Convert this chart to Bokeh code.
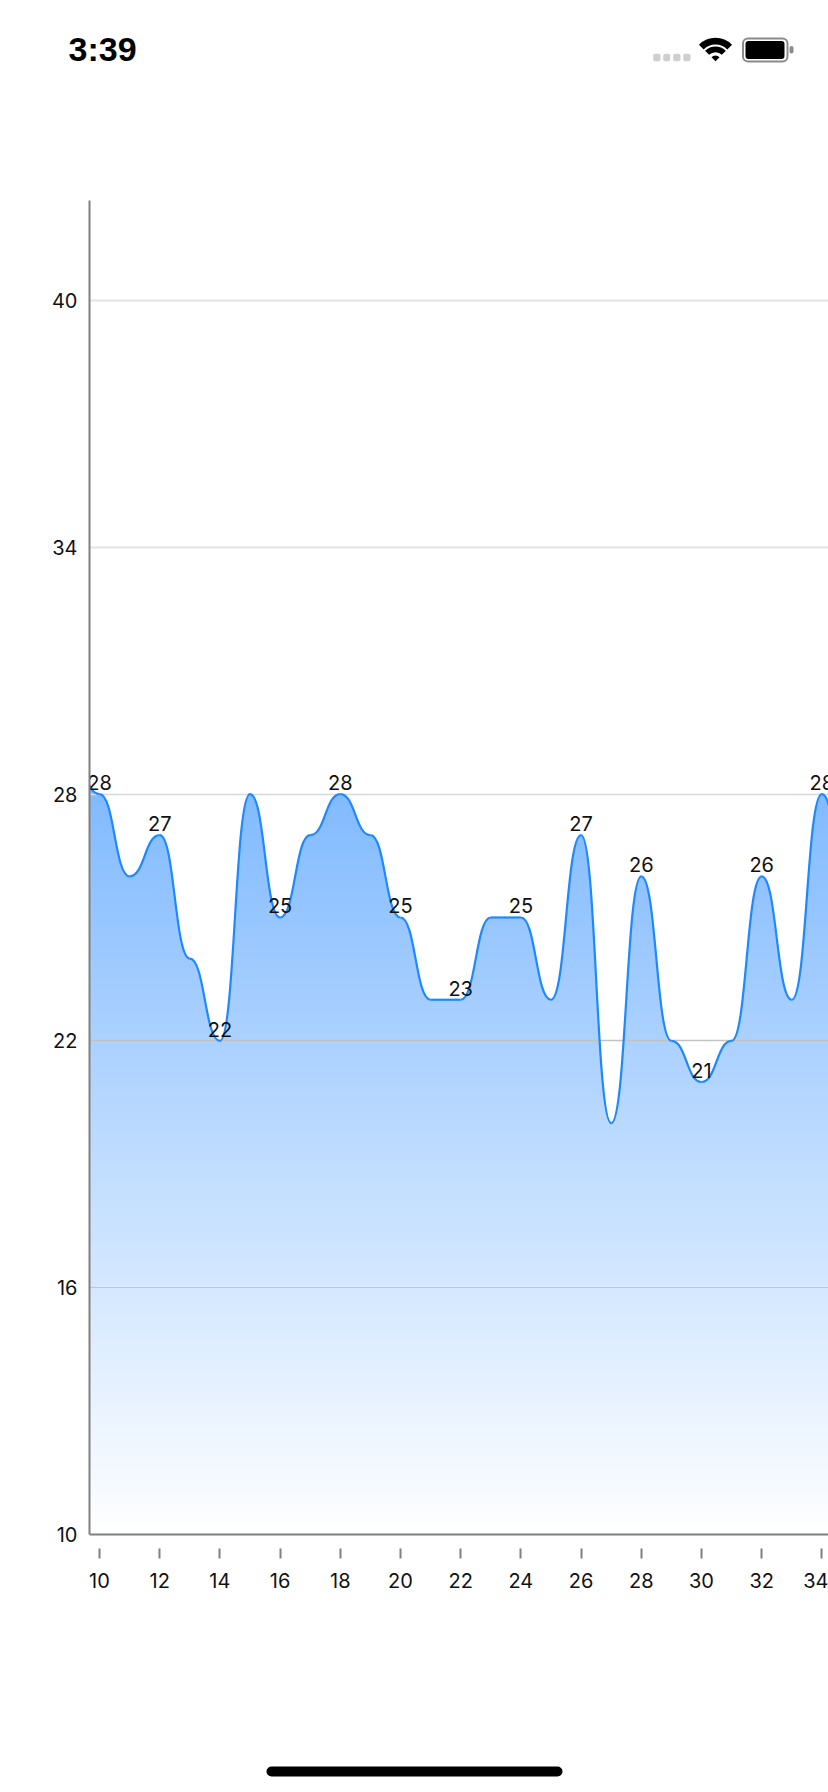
import numpy as np
from bokeh.plotting import figure
from bokeh.layouts import column
from bokeh.models import Range1d, FixedTicker, Grid
from bokeh.embed import file_html
from bokeh.resources import INLINE
from bokeh.core.properties import value

# ---- chart data ----
days = [9, 10, 11, 12, 13, 14, 15, 16, 17, 18, 19, 20, 21, 22, 23, 24, 25, 26, 27, 28, 29, 30, 31, 32, 33, 34, 35]
temps = [29, 28, 26, 27, 24, 22, 28, 25, 27, 28, 27, 25, 23, 23, 25, 25, 23, 27, 20, 26, 22, 21, 22, 26, 23, 28, 25]
x_ticks = [10, 12, 14, 16, 18, 20, 22, 24, 26, 28, 30, 32, 34]
y_ticks = [10, 16, 22, 28, 34, 40]
status_time = "3:39"

X_MIN, X_MAX = 9.668, 34.219
Y_MIN, Y_MAX = 10, 42.43
FONT = "Inter"
FONT_SIZE = "20px"

W = 828
TOP_H = 200
CHART_H = 1400
BOTTOM_H = 192

# ---- status bar ----
top = figure(width=W, height=TOP_H, x_range=Range1d(0, W), y_range=Range1d(TOP_H, 0),
             output_backend="svg", toolbar_location=None, min_border=0, frame_align=False,
             x_axis_location=None, y_axis_location=None, outline_line_color=None)
top.grid.visible = False
top.text([68], [48], text=[status_time], text_font=value("Liberation Sans"), text_font_size="34px",
         text_font_style="bold", text_color="#000000", text_baseline="middle", text_align="left")
top.quad(left=[652.7, 662.7, 672.7, 682.7], right=[660, 669.7, 680, 690], top=[53.3] * 4, bottom=[60.7] * 4,
         fill_color="#cfcfcf", line_color=None, border_radius=2)
# wifi
for r0, r1 in [(16.7, 23.4), (9, 14.7), (0, 5.7)]:
    top.annular_wedge([715], [60.7], inner_radius=[r0], outer_radius=[r1], start_angle=np.radians(45),
                      end_angle=np.radians(135), fill_color="#000", line_color=None)
# battery
top.quad(left=[742.5], right=[787], top=[38], bottom=[61], fill_color=None, line_color="#8a8a8a",
         line_width=2, border_radius=5)
top.quad(left=[745], right=[784], top=[40.5], bottom=[58.5], fill_color="#000", line_color=None, border_radius=3)
top.quad(left=[789], right=[793], top=[45.5], bottom=[53], fill_color="#8a8a8a", line_color=None, border_radius=2)

# ---- chart ----
p = figure(width=W, height=CHART_H, x_range=Range1d(X_MIN, X_MAX), y_range=Range1d(Y_MIN, Y_MAX),
           output_backend="svg", toolbar_location=None, min_border_left=89, min_border_right=0,
           min_border_top=0, min_border_bottom=66, outline_line_color=None, frame_align=False)

# bump curve: each segment leaves and enters horizontally
x = np.array(days, float)
y = np.array(temps, float)
mid = (x[:-1] + x[1:]) / 2

t = np.linspace(0, 1, 40)[:, None]
bx = ((1 - t) ** 3 * x[:-1] + 3 * (1 - t) ** 2 * t * mid + 3 * (1 - t) * t ** 2 * mid + t ** 3 * x[1:]).T.ravel()
by = ((1 - t) ** 3 * y[:-1] + 3 * (1 - t) ** 2 * t * y[:-1] + 3 * (1 - t) * t ** 2 * y[1:] + t ** 3 * y[1:]).T.ravel()

# vertical gradient, masked above the curve
GRAD_TOP, GRAD_BOTTOM = (130, 187, 255), (255, 255, 255)
n = 512
grad_top_value = 28.0
grad_bottom_value = 10.0
img = np.zeros((n, 1), dtype=np.uint32)
view = img.view(np.uint8).reshape((n, 1, 4))
vals = np.linspace(grad_bottom_value, grad_top_value + 2, n)
f = np.clip((vals - grad_bottom_value) / (grad_top_value - grad_bottom_value), 0, 1)
for c in range(3):
    view[:, 0, c] = (GRAD_BOTTOM[c] + (GRAD_TOP[c] - GRAD_BOTTOM[c]) * f).astype(np.uint8)
view[:, 0, 3] = 255
p.image_rgba(image=[img], x=[X_MIN], y=[grad_bottom_value], dw=[X_MAX - X_MIN],
             dh=[grad_top_value + 2 - grad_bottom_value], level="image")
p.varea(x=bx, y1=by, y2=np.full_like(by, Y_MAX), fill_color="#ffffff", level="image")

# grid lines
p.xgrid.visible = False
p.ygrid.visible = False
grid_groups = [([34, 40], "#e2e2e2", 2), ([28], "#d8d8d8", 1.5), ([22], "#c2c2c2", 1.5), ([16], "#bcc8d4", 1)]
for ticks, colour, width in grid_groups:
    p.add_layout(Grid(dimension=1, ticker=FixedTicker(ticks=ticks), grid_line_color=colour, grid_line_width=width))

p.bezier(x0=x[:-1], y0=y[:-1], x1=x[1:], y1=y[1:], cx0=mid, cy0=y[:-1], cx1=mid, cy1=y[1:],
         line_color="#1e88ff", line_width=2.2)

lx = [d for d in days if d in x_ticks]
ly = [temps[days.index(d)] for d in lx]
p.text(lx, ly, text=[str(v) for v in ly], text_font=value(FONT), text_font_size=FONT_SIZE, text_color="#111111",
       text_align="center", text_baseline="bottom", y_offset=-4)

p.xaxis.ticker = FixedTicker(ticks=x_ticks)
p.yaxis.ticker = FixedTicker(ticks=y_ticks)
for ax in (p.xaxis[0], p.yaxis[0]):
    ax.axis_line_color = "#808080"
    ax.axis_line_width = 2
    ax.minor_tick_line_color = None
    ax.major_label_text_font = FONT
    ax.major_label_text_font_size = FONT_SIZE
    ax.major_label_text_color = "#111111"
p.yaxis.major_tick_line_color = None
p.yaxis.major_tick_in = 0
p.yaxis.major_tick_out = 0
p.yaxis.major_label_standoff = 12
p.xaxis.major_tick_line_color = "#808080"
p.xaxis.major_tick_line_width = 2
p.xaxis.major_tick_in = -14
p.xaxis.major_tick_out = 24
p.xaxis.major_label_standoff = 14

# ---- home indicator ----
bottom = figure(width=W, height=BOTTOM_H, x_range=Range1d(0, W), y_range=Range1d(1792, 1600),
                output_backend="svg", toolbar_location=None, min_border=0, frame_align=False,
                x_axis_location=None, y_axis_location=None, outline_line_color=None)
bottom.grid.visible = False
bottom.quad(left=[266], right=[562], top=[1766], bottom=[1776], fill_color="#000", line_color=None, border_radius=5)

page = column(top, p, bottom, spacing=0)
open("out.html", "w").write(file_html(page, INLINE))
